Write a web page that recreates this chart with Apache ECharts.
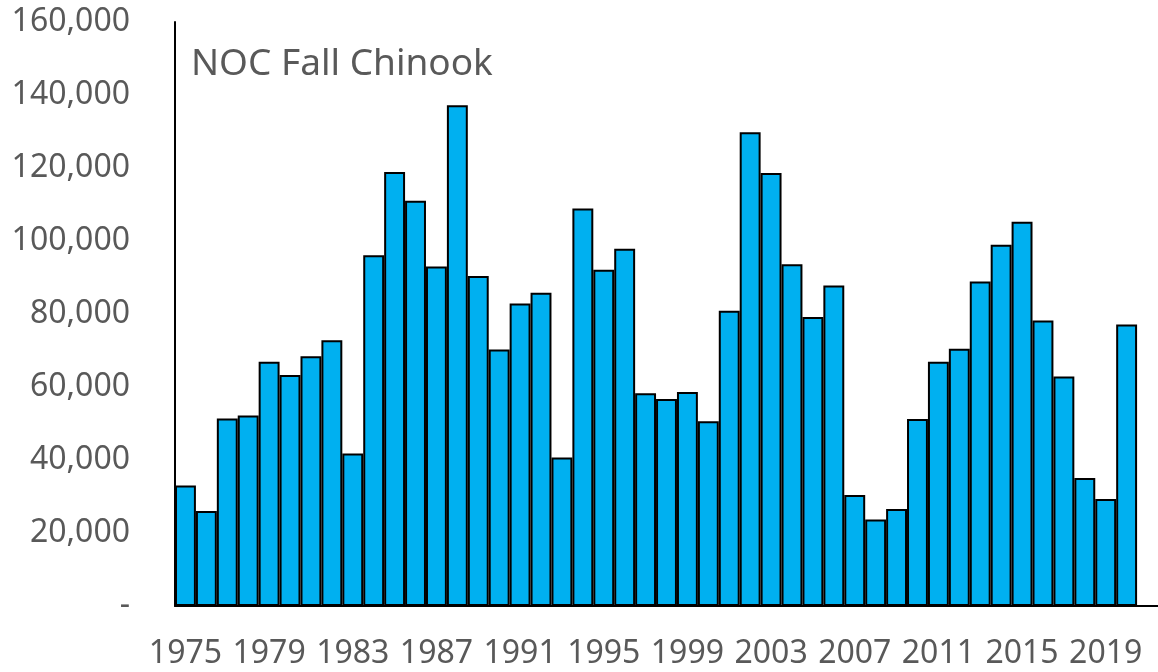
<!DOCTYPE html>
<html>
<head>
<meta charset="utf-8">
<script src="https://cdn.jsdelivr.net/npm/echarts@6/dist/echarts.min.js"></script>
<style>
  html, body { margin: 0; padding: 0; background: #fff; }
  #chart { width: 1158px; height: 672px; }
</style>
</head>
<body>
<div id="chart"></div>
<script>
const years = [
  '1975','1976','1977','1978','1979','1980','1981','1982','1983','1984',
  '1985','1986','1987','1988','1989','1990','1991','1992','1993','1994',
  '1995','1996','1997','1998','1999','2000','2001','2002','2003','2004',
  '2005','2006','2007','2008','2009','2010','2011','2012','2013','2014',
  '2015','2016','2017','2018','2019','2020'
];

// NOC fall chinook abundance
const abundance = [
  33000, 26000, 51400, 52200, 66900, 63300, 68400, 72800, 41800, 96100,
  118900, 111000, 93000, 137200, 90400, 70300, 82900, 85800, 40700, 108900,
  92100, 97900, 58300, 56700, 58600, 50600, 80900, 129800, 118600, 93600,
  79200, 87800, 30400, 23700, 26600, 51200, 66900, 70500, 88900, 99000,
  105300, 78200, 62900, 35100, 29300, 77100
];

const yTicks = [0, 20000, 40000, 60000, 80000, 100000, 120000, 140000, 160000];

const chart = echarts.init(document.getElementById('chart'));

const option = {
  animation: false,
  textStyle: { fontFamily: 'Noto Sans' },
  title: {
    text: 'NOC Fall Chinook',
    left: 186,
    top: 41,
    textStyle: {
      fontFamily: 'Noto Sans',
      fontSize: 37,
      fontWeight: 'normal',
      color: '#595959'
    }
  },
  grid: {
    left: 175,
    top: 22,
    width: 990,
    height: 584,
    containLabel: false
  },
  xAxis: {
    type: 'category',
    data: years,
    max: years.length,   // one empty slot past 2020, as in the source
    axisLine: { show: true, lineStyle: { color: '#000', width: 2 } },
    axisTick: { show: false },
    axisLabel: {
      interval: 3,
      margin: 32,
      fontSize: 32,
      color: '#595959',
      fontFamily: 'Noto Sans'
    },
    splitLine: { show: false }
  },
  yAxis: {
    type: 'value',
    min: yTicks[0],
    max: yTicks[yTicks.length - 1],
    interval: 20000,
    axisLine: { show: true, lineStyle: { color: '#000', width: 2 } },
    axisTick: { show: false },
    splitLine: { show: false },
    axisLabel: {
      margin: 45,
      fontSize: 32,
      color: '#595959',
      fontFamily: 'Noto Sans',
      formatter: function (v) {
        return v === 0 ? '-' : v.toLocaleString('en-US');
      }
    }
  },
  series: [{
    type: 'bar',
    data: abundance,
    barCategoryGap: '0%',
    itemStyle: {
      color: '#00B0F0',
      borderColor: '#000',
      borderWidth: 2
    }
  }]
};

chart.setOption(option);
</script>
</body>
</html>
